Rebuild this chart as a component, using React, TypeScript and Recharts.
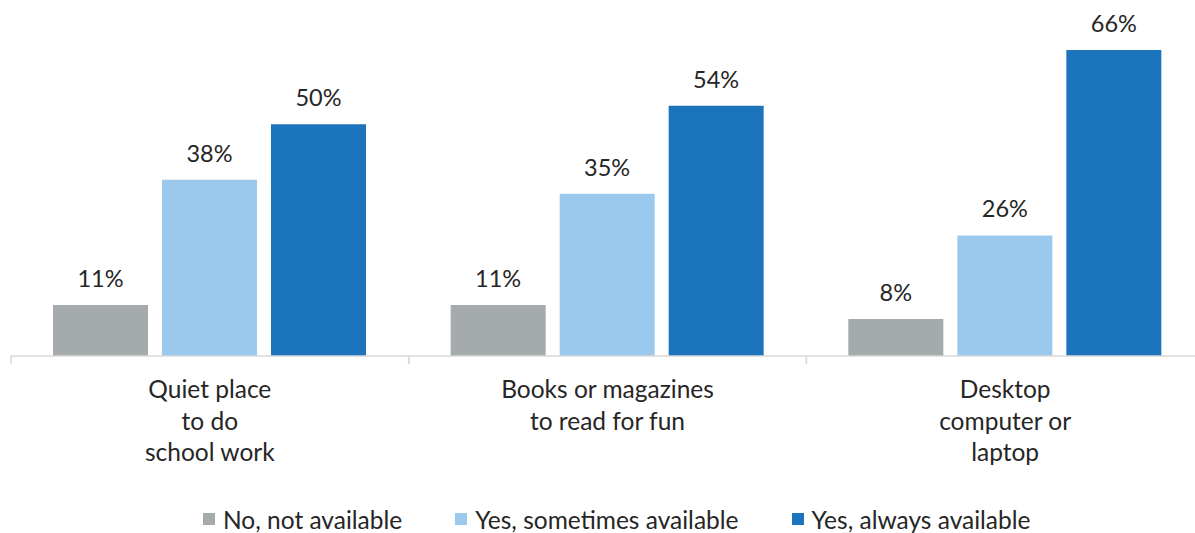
import { BarChart, Bar, XAxis, YAxis, LabelList, Legend } from 'recharts';

// category labels, "|" marks a line break
const categories = ['Quiet place|to do|school work', 'Books or magazines|to read for fun', 'Desktop|computer or|laptop'];
const seriesNames = ['No, not available', 'Yes, sometimes available', 'Yes, always available'];
const notAvailable = [11, 11, 8];
const sometimesAvailable = [38, 35, 26];
const alwaysAvailable = [50, 54, 66];

const colors = ['#A5AAAD', '#9BC9EE', '#1C75BC'];
const FONT = 'Lato, "Open Sans", sans-serif';
const TEXT = '#262626';

const CHART_W = 1204;
const CHART_H = 533;
const LEFT = 11;
const BAND = (CHART_W - LEFT) / categories.length;

const data = categories.map((c, i) => ({
  name: c,
  no: notAvailable[i],
  sometimes: sometimesAvailable[i],
  always: alwaysAvailable[i],
}));

function CategoryTick(props: any) {
  const { x, y, payload } = props;
  const lines = String(payload.value).split('|');
  return (
    <g>
      <line x1={x - BAND / 2} x2={x - BAND / 2} y1={y} y2={y + 8} stroke="#D9D9D9" strokeWidth={1.5} />
      <line x1={x + BAND / 2} x2={x + BAND / 2} y1={y} y2={y + 8} stroke="#D9D9D9" strokeWidth={1.5} />
      <text x={x} y={y + 42} textAnchor="middle" fill={TEXT} fontSize={24.5} fontFamily={FONT}>
        {lines.map((l, i) => (
          <tspan key={i} x={x} dy={i === 0 ? 0 : 31.5}>
            {l}
          </tspan>
        ))}
      </text>
    </g>
  );
}

// legend drawn in series order (recharts would sort it by name)
function LegendContent() {
  return (
    <div
      style={{
        display: 'flex',
        alignItems: 'center',
        height: 34,
        paddingLeft: 203,
        paddingTop: 6,
        boxSizing: 'border-box',
        fontFamily: FONT,
        fontSize: 24.5,
        color: TEXT,
      }}
    >
      {seriesNames.map((n, i) => (
        <div key={n} style={{ display: 'flex', alignItems: 'center', marginRight: 53 }}>
          <span style={{ width: 12, height: 12, background: colors[i], marginRight: 8, display: 'inline-block' }} />
          <span>{n}</span>
        </div>
      ))}
    </div>
  );
}

export default function App() {
  return (
    <div style={{ position: 'absolute', left: 0, top: 0, width: 1195, height: 533, overflow: 'hidden', background: '#fff' }}>
      <BarChart
        width={CHART_W}
        height={CHART_H}
        data={data}
        margin={{ top: 31.5, right: 0, left: LEFT, bottom: 0 }}
        barSize={95}
        barGap={14}
      >
        <YAxis hide domain={[0, 70]} />
        <XAxis
          dataKey="name"
          height={143}
          tickLine={false}
          tickSize={0}
          tickMargin={0}
          axisLine={{ stroke: '#D9D9D9', strokeWidth: 1.5 }}
          tick={<CategoryTick />}
          interval={0}
        />
        <Legend
          verticalAlign="bottom"
          height={34}
          wrapperStyle={{ left: 0, bottom: 0, width: CHART_W, height: 34 }}
          content={<LegendContent />}
        />
        <Bar dataKey="no" name={seriesNames[0]} fill={colors[0]} isAnimationActive={false}>
          <LabelList dataKey="no" position="top" offset={18} formatter={(v: any) => `${v}%`} fill={TEXT} fontSize={23.5} fontFamily={FONT} />
        </Bar>
        <Bar dataKey="sometimes" name={seriesNames[1]} fill={colors[1]} isAnimationActive={false}>
          <LabelList dataKey="sometimes" position="top" offset={18} formatter={(v: any) => `${v}%`} fill={TEXT} fontSize={23.5} fontFamily={FONT} />
        </Bar>
        <Bar dataKey="always" name={seriesNames[2]} fill={colors[2]} isAnimationActive={false}>
          <LabelList dataKey="always" position="top" offset={18} formatter={(v: any) => `${v}%`} fill={TEXT} fontSize={23.5} fontFamily={FONT} />
        </Bar>
      </BarChart>
    </div>
  );
}
